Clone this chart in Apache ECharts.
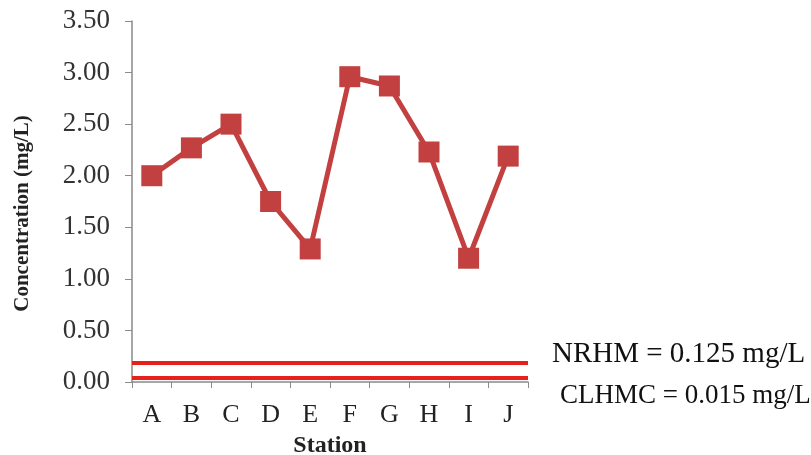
<!DOCTYPE html>
<html>
<head>
<meta charset="utf-8">
<script src="https://cdn.jsdelivr.net/npm/echarts@6/dist/echarts.min.js"></script>
<style>
html,body{margin:0;padding:0;background:#fff;}
#chart{width:811px;height:455px;}
</style>
</head>
<body>
<div id="chart"></div>
<script>
const stations = ['A','B','C','D','E','F','G','H','I','J'];
const concentration = [2.00, 2.27, 2.50, 1.75, 1.29, 2.96, 2.87, 2.23, 1.20, 2.19];
const yTicks = [0, 3.5, 0.5]; // min, max, interval
const limitLabels = ['NRHM = 0.125 mg/L', 'CLHMC = 0.015 mg/L'];
const limitLevels = [0.19, 0.035];

const serif = "'Liberation Serif','Times New Roman',serif";
const chart = echarts.init(document.getElementById('chart'), null, {renderer:'canvas'});
chart.setOption({
  animation:false,
  backgroundColor:'#ffffff',
  grid:{left:132, right:283, top:21, bottom:73, containLabel:false, outerBoundsMode:'none'},
  xAxis:{
    type:'category',
    data:stations,
    boundaryGap:true,
    name:'Station',
    nameLocation:'middle',
    nameGap:52,
    nameTextStyle:{fontFamily:serif, fontWeight:'bold', fontSize:24, color:'#222'},
    axisLine:{lineStyle:{color:'#8a8a8a', width:1.5}},
    axisTick:{show:true, length:6, lineStyle:{color:'#8a8a8a'}},
    axisLabel:{fontFamily:serif, fontSize:26, color:'#222', margin:20},
    splitLine:{show:false}
  },
  yAxis:{
    type:'value',
    min:yTicks[0], max:yTicks[1], interval:yTicks[2],
    name:'Concentration (mg/L)',
    nameLocation:'middle',
    nameGap:99,
    nameRotate:90,
    nameTextStyle:{fontFamily:serif, fontWeight:'bold', fontSize:21, color:'#222', padding:[0,0,0,-24]},
    axisLine:{show:true, lineStyle:{color:'#8a8a8a', width:1.5}},
    axisTick:{show:true, length:7, lineStyle:{color:'#8a8a8a'}},
    axisLabel:{fontFamily:serif, fontSize:27, color:'#333', margin:22, formatter:v=>v.toFixed(2)},
    splitLine:{show:false}
  },
  series:[{
    type:'line',
    data:concentration,
    symbol:'rect',
    symbolSize:21,
    lineStyle:{color:'#c2403f', width:5},
    itemStyle:{color:'#c2403f'},
    z:3,
    markLine:{
      silent:true,
      symbol:['none','none'],
      lineStyle:{color:'#e8201c', width:4, type:'solid'},
      data:[
        {yAxis:limitLevels[0], label:{show:true, position:'end', formatter:limitLabels[0], distance:24, offset:[0,-8], fontSize:29}},
        {yAxis:limitLevels[1], label:{show:true, position:'end', formatter:limitLabels[1], distance:32, offset:[0,18], fontSize:27}}
      ],
      label:{fontFamily:serif, fontSize:28, color:'#111'}
    }
  }]
});
</script>
</body>
</html>
